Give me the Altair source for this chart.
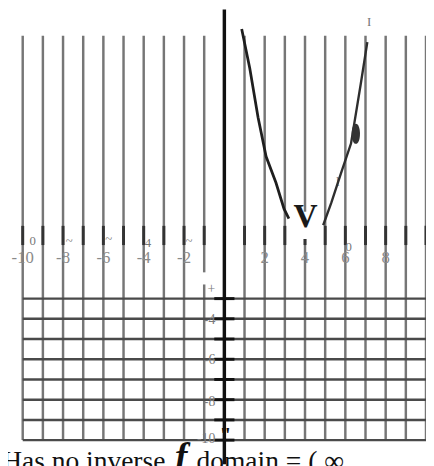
import altair as alt
import pandas as pd

# ---------------- data ----------------
grid_x = list(range(-10, 11))              # vertical grid lines
grid_top = 10
grid_bottom = -10
lower_grid_y = [-3, -4, -5, -6, -7, -8, -9, -10]  # horizontal lines (lower part only)

x_label_vals = [-10, -8, -6, -4, -2, 2, 4, 6, 8]
x_label_text = ["-10", "-8", "-6", "-4", "-2", "2", "4", "6", "8"]

y_label_vals = [-2.55, -4.05, -6.05, -8.1, -9.95]
y_label_text = ["+", "-4", "-6", "-8", "-10"]

left_arm_x = [0.86, 1.26, 1.67, 2.07, 2.56, 2.96, 3.2]
left_arm_y = [10.34, 8.4, 5.97, 4.03, 2.73, 1.44, 0.96]
right_arm_x = [4.9, 5.31, 5.79, 6.28, 6.76, 7.09]
right_arm_y = [0.63, 1.76, 3.22, 4.67, 7.59, 9.69]

dot_x = [6.52]
dot_y = [5.16]

artifact_x = [-9.51, -7.7, -5.73, -3.79, -1.75, 6.17, 7.18, 5.63]
artifact_y = [-0.15, -0.15, -0.05, -0.24, -0.15, -0.43, 10.68, 2.77]
artifact_t = ["0", "~", "~", "4", "~", "0", "I", "l"]

quote_x = [0.05]
quote_y = [-9.75]

caption_parts = ["Has no inverse", "f", "domain  = (  ∞"]
caption_x = [-11.02, -2.45, -1.38]
caption_y = [-11.5, -11.45, -11.5]

# ---------------- helpers ----------------
XS = alt.Scale(domain=[-10, 10], nice=False, zero=False)
YS = alt.Scale(domain=[-10, 10], nice=False, zero=False)


def X(f="x"):
    return alt.X(f"{f}:Q", scale=XS, axis=None)


def Y(f="y"):
    return alt.Y(f"{f}:Q", scale=YS, axis=None)


def text_layer(xs, ys, ts, **kw):
    df = pd.DataFrame({"x": xs, "y": ys, "t": ts})
    return alt.Chart(df).mark_text(**kw).encode(x=X(), y=Y(), text="t:N")


# vertical grid lines
vdf = pd.DataFrame({"x": grid_x, "y": [grid_top] * len(grid_x), "y2": [grid_bottom] * len(grid_x)})
vlines = alt.Chart(vdf).mark_rule(color="#767676", strokeWidth=2.5).encode(
    x=X(), y=Y(), y2=alt.Y2("y2:Q")
)

# horizontal grid lines (lower half)
hdf = pd.DataFrame({"y": lower_grid_y, "x": [-10] * len(lower_grid_y), "x2": [10] * len(lower_grid_y)})
hlines = alt.Chart(hdf).mark_rule(color="#4a4a4a", strokeWidth=2.5).encode(
    y=Y(), x=X(), x2=alt.X2("x2:Q")
)

# x-axis tick marks (dark short segments on the vertical lines)
tdf = pd.DataFrame({"x": [v for v in grid_x if v != 0], "y": 0.6, "y2": -0.35})
xticks = alt.Chart(tdf).mark_rule(color="#333333", strokeWidth=3).encode(
    x=X(), y=Y(), y2=alt.Y2("y2:Q")
)

# y-axis tick marks
ytdf = pd.DataFrame({"y": lower_grid_y, "x": -0.5, "x2": 0.5})
yticks = alt.Chart(ytdf).mark_rule(color="#111111", strokeWidth=3).encode(
    y=Y(), x=X(), x2=alt.X2("x2:Q")
)

# y axis line
adf = pd.DataFrame({"x": [0], "y": [11.3], "y2": [-11.2]})
yaxis = alt.Chart(adf).mark_rule(color="#111111", strokeWidth=3.5).encode(
    x=X(), y=Y(), y2=alt.Y2("y2:Q")
)

# white blobs
bdf = pd.DataFrame({"x": [3.3, -1.31], "x2": [4.75, -0.58], "y": [-0.05, -1.7], "y2": [1.3, -2.3]})
blobs = alt.Chart(bdf).mark_rect(color="white").encode(
    x=X(), x2=alt.X2("x2:Q"), y=Y(), y2=alt.Y2("y2:Q")
)

# curve
ldf = pd.DataFrame({"x": left_arm_x, "y": left_arm_y})
larm = alt.Chart(ldf).mark_line(color="#1e1e1e", strokeWidth=2.8).encode(x=X(), y=Y(), order="x:Q")
rdf = pd.DataFrame({"x": right_arm_x, "y": right_arm_y})
rarm = alt.Chart(rdf).mark_line(color="#2e2e2e", strokeWidth=2.4).encode(x=X(), y=Y(), order="x:Q")

# ellipse dot
ddf = pd.DataFrame({"x": dot_x, "y": dot_y})
dot = alt.Chart(ddf).mark_point(
    shape="M0,-1C0.55,-1 0.55,1 0,1C-0.55,1 -0.55,-1 0,-1Z",
    filled=True, color="#333333", opacity=1, size=420,
).encode(x=X(), y=Y())

# vertex glyph
vglyph = text_layer([4.03], [1.02], ["V"], font="Liberation Serif", fontWeight="bold", fontSize=34,
                    color="#1a1a1a", baseline="middle", align="center")

# labels
xlabels = text_layer(x_label_vals, [-1.0] * len(x_label_vals), x_label_text,
                     font="Liberation Serif", fontSize=17, color="#8a8a8a", baseline="middle", align="center")
ylabels = text_layer([-0.45] * len(y_label_vals), y_label_vals, y_label_text,
                     font="Liberation Serif", fontSize=14, color="#7a7a7a", baseline="middle", align="right")
arts = text_layer(artifact_x, artifact_y, artifact_t,
                  font="Liberation Serif", fontSize=13, color="#777777", baseline="middle", align="center")
quote = text_layer(quote_x, quote_y, ['"'], font="Liberation Serif", fontWeight="bold", fontSize=22,
                   color="#111111", baseline="middle", align="center")

# caption
c1 = text_layer([caption_x[0]], [caption_y[0]], [caption_parts[0]], font="Liberation Serif", fontSize=28,
                color="#111111", baseline="alphabetic", align="left")
c2 = text_layer([caption_x[1]], [caption_y[1]], [caption_parts[1]], font="Liberation Serif", fontSize=38,
                fontWeight="bold", fontStyle="italic", color="#111111", baseline="alphabetic", align="left")
c3 = text_layer([caption_x[2]], [caption_y[2]], [caption_parts[2]], font="Liberation Serif", fontSize=28,
                color="#111111", baseline="alphabetic", align="left")

chart = alt.layer(
    vlines, hlines, xticks, blobs, yticks, yaxis, xlabels, ylabels, arts, quote,
    larm, rarm, dot, vglyph, c1, c2, c3,
).properties(
    width=411, height=412,
    padding={"left": 15, "top": 24, "right": 0, "bottom": 22},
    autosize=alt.AutoSizeParams(type="none"),
    background="white",
).configure_view(stroke=None)

chart.save("out.html", embed_options={"renderer": "svg", "actions": False})
